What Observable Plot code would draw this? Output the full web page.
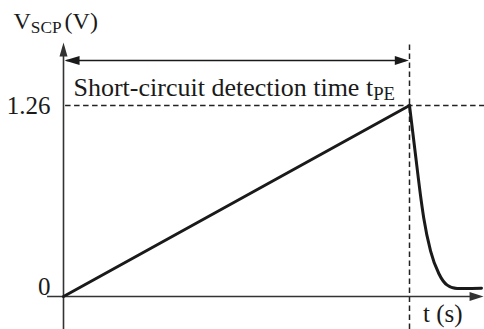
<!DOCTYPE html>
<html>
<head>
<meta charset="utf-8">
<script src="https://cdn.jsdelivr.net/npm/d3@7"></script>
<script src="https://cdn.jsdelivr.net/npm/@observablehq/plot@0.6"></script>
<style>
  html, body { margin: 0; padding: 0; background: #fff; }
  #chart { width: 484px; height: 329px; }
</style>
</head>
<body>
<div id="chart"></div>
<script>
// ---- data ----
const rampTimes = [0, 1.0];
const rampVolts = [0, 1.26];
const decayTimes = [1.0, 1.016, 1.034, 1.041, 1.061, 1.085, 1.109, 1.138, 1.176, 1.208];
const decayVolts = [1.26, 0.96, 0.63, 0.52, 0.30, 0.15, 0.075, 0.052, 0.053, 0.055];
const thresholdLevels = [1.26];          // dashed horizontal level
const detectionTimes = [1.0];            // t_PE (dashed vertical)
const yTickValues = [0, 1.26];
const yTickLabels = ["0", "1.26"];
const xAxisExtent = [-0.046, 1.214];     // x-axis line (t units, t_PE = 1)
const yAxisExtent = [-0.218, 1.676];     // y-axis line (V)
const spanLevel = 1.557;                 // level of the double arrow
const xDomain = [-0.18208, 1.21676];
const yDomain = [-0.2177, 1.9527];
const yLabel = "V_{SCP}(V)";
const xLabel = "t (s)";
const spanLabel = "Short-circuit detection time t_{PE}";

const ramp = rampTimes.map((t, i) => ({t, v: rampVolts[i]}));
const decay = decayTimes.map((t, i) => ({t, v: decayVolts[i]}));

const headRight = {draw(c) { c.moveTo(0, 0); c.lineTo(-14, -4.5); c.lineTo(-14, 4.5); c.closePath(); }};
const headLeft  = {draw(c) { c.moveTo(0, 0); c.lineTo(15, -4.5); c.lineTo(15, 4.5); c.closePath(); }};
const headUp    = {draw(c) { c.moveTo(0, 0); c.lineTo(-4, 14); c.lineTo(4, 14); c.closePath(); }};

const axisColor = "#333";
const ink = "#1a1a1a";
const dash = "5.5,3.5";

const chart = Plot.plot({
  width: 484,
  height: 329,
  margin: 0,
  style: {fontFamily: "'Liberation Serif', 'Times New Roman', serif", fontSize: "25px", color: ink, background: "#fff"},
  x: {domain: xDomain, axis: null},
  y: {domain: yDomain, axis: null},
  marks: [
    // dashed guides
    Plot.ruleY(thresholdLevels, {x1: 0.006, x2: xDomain[1], stroke: "#222", strokeWidth: 1.4, strokeDasharray: dash}),
    Plot.ruleX(detectionTimes, {y1: yDomain[0], y2: 1.669, stroke: "#222", strokeWidth: 1.5, strokeDasharray: dash}),
    // axes
    Plot.ruleX([0], {y1: yAxisExtent[0], y2: yAxisExtent[1] - 0.05, stroke: axisColor, strokeWidth: 1.6}),
    Plot.ruleY([0], {x1: xAxisExtent[0], x2: xAxisExtent[1] - 0.02, stroke: axisColor, strokeWidth: 1.6}),
    Plot.dot([0], {x: 0, y: yAxisExtent[1], symbol: headUp, fill: axisColor, stroke: "none"}),
    Plot.dot([0], {x: xAxisExtent[1], y: 0, symbol: headRight, fill: axisColor, stroke: "none"}),
    // double arrow for t_PE span
    Plot.ruleY([spanLevel], {x1: 0.01, x2: detectionTimes[0] - 0.01, stroke: ink, strokeWidth: 1.6}),
    Plot.dot([0], {x: 0.003, y: spanLevel, symbol: headLeft, fill: ink, stroke: "none"}),
    Plot.dot([0], {x: detectionTimes[0] - 0.002, y: spanLevel, symbol: headRight, fill: ink, stroke: "none"}),
    // signal
    Plot.line(ramp, {x: "t", y: "v", stroke: ink, strokeWidth: 3, curve: "linear"}),
    Plot.line(decay, {x: "t", y: "v", stroke: ink, strokeWidth: 3, curve: "monotone-x", strokeLinejoin: "round"}),
    // labels
    Plot.text(yTickValues.slice(1), {x: 0, y: d => d, text: (d, i) => yTickLabels[i + 1], textAnchor: "end", lineAnchor: "middle", dx: -13, fill: ink}),
    Plot.text(yTickValues.slice(0, 1), {x: 0, y: d => d, text: (d, i) => yTickLabels[i], textAnchor: "end", lineAnchor: "bottom", dx: -13, dy: -1, fill: ink}),
    Plot.text([yLabel], {x: 0, y: yAxisExtent[1], text: d => d, textAnchor: "start", lineAnchor: "bottom", dx: -50, dy: -13, fill: ink, fontSize: 24}),
    Plot.text([spanLabel], {x: 0, y: thresholdLevels[0], text: d => d, textAnchor: "start", lineAnchor: "bottom", dx: 10, dy: -10, fill: ink, fontSize: 26}),
    Plot.text([xLabel], {x: detectionTimes[0], y: 0, text: d => d, textAnchor: "start", lineAnchor: "bottom", dx: 13.5, dy: 25.5, fill: ink})
  ]
});

// turn "_{...}" markup into subscripts
d3.select(chart).selectAll("text").each(function() {
  const s = this.textContent;
  const m = s.match(/^(.*?)_\{(.*?)\}(.*)$/);
  if (!m) return;
  const t = d3.select(this);
  t.text(null);
  t.append("tspan").text(m[1]);
  t.append("tspan").attr("font-size", "0.72em").attr("dy", 4).text(m[2]);
  if (m[3]) t.append("tspan").attr("dy", -4).attr("dx", 3).text(m[3]);
});

document.getElementById("chart").appendChild(chart);
</script>
</body>
</html>
